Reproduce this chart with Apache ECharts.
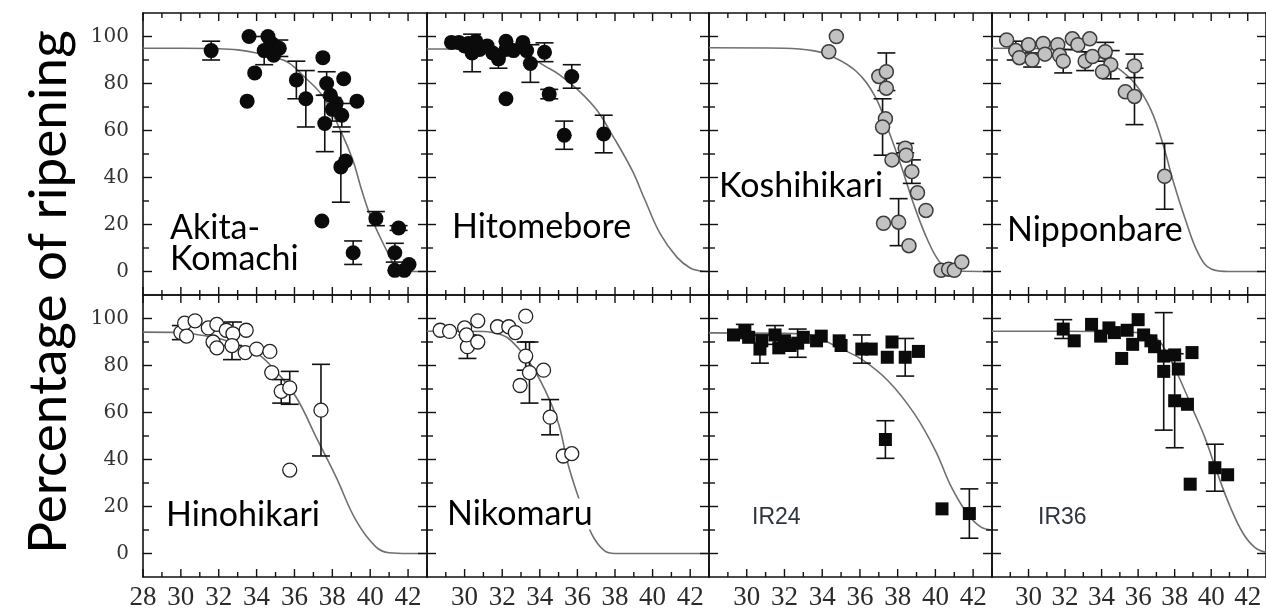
<!DOCTYPE html>
<html><head><meta charset="utf-8">
<script src="https://cdn.jsdelivr.net/npm/echarts@6/dist/echarts.min.js"></script>
<style>html,body{margin:0;padding:0;background:#fff}#c{width:1266px;height:614px}</style>
</head><body><div id="c"></div>
<script>
// ---------------- data ----------------
const xMin = 28, xMax = 43, xMajorStep = 2;
const yMin = -10, yMax = 110, yMajorSplits = 6;
const xMajorTicks = [28, 30, 32, 34, 36, 38, 40, 42];
const xMinorTicks = [29, 31, 33, 35, 37, 39, 41];
const yMajorTicks = [0, 20, 40, 60, 80, 100];
const yMinorTicks = [10, 30, 50, 70, 90];
const yAxisTitle = 'Percentage of ripening';
const panelNames = ['Akita-\nKomachi', 'Hitomebore', 'Koshihikari', 'Nipponbare',
                    'Hinohikari', 'Nikomaru', 'IR24', 'IR36'];

// points: [temperature, % ripening, error (0 = none)]
const akitaPts = [
  [31.6,94,4],[33.6,100,0],[33.5,72.5,0],[33.9,84.5,0],[34.6,100,0],[34.4,94,6],
  [34.8,97,0],[35.2,95,3.5],[34.9,92,0],[36.1,81.5,8],[36.6,73.5,12],[37.5,91,0],
  [37.7,80,5],[37.6,63,12],[38.2,71.5,0],[38.5,66.5,5],[38.6,82,0],[37.9,75,0],
  [38.0,69,5],[38.45,44.5,15],[38.7,47,0],[37.45,21.5,0],[39.3,72.5,0],[39.1,8,5],
  [40.3,22.5,3],[41.5,18.5,1],[41.3,8,4],[41.3,0.5,0],[41.8,0.5,0],[42.05,3,0]
];
const hitoPts = [
  [29.3,97.5,0],[29.7,97.5,0],[30.0,96,0],[30.2,97,0],[30.6,98,0],[30.4,93,8],
  [30.8,94.5,0],[31.2,96,0],[31.5,93,0],[31.8,90.5,4],[32.2,98,0],[32.2,94.5,0],
  [32.6,94,0],[33.1,97.5,0],[33.3,94,0],[33.5,88.5,8],[34.25,93.3,4],[32.2,73.5,0],
  [34.5,75.5,2],[35.7,83,5],[35.3,58,6],[37.4,58.5,8]
];
const koshiPts = [
  [34.75,100,0],[34.35,93.5,0],[37.0,83,0],[37.4,85,8],[37.4,78,0],[37.35,65,0],
  [37.2,61.5,12],[37.7,47.5,0],[38.4,52.5,2],[38.45,49.5,0],[38.75,42.5,5],[39.05,33.5,0],
  [39.5,26,0],[37.25,20.5,0],[38.05,21,10],[38.6,11,0],[40.3,0.5,0],[40.7,1,0],
  [41.0,0.5,0],[41.4,4,0]
];
const nippPts = [
  [28.8,98.5,0],[29.3,94,4],[29.5,91,0],[30.0,96.5,0],[30.2,90,3],[30.8,97,0],
  [30.9,92.5,0],[31.6,96.5,0],[31.7,92,0],[31.9,89.5,5],[32.4,99,0],[32.7,96.5,0],
  [33.1,89.5,4],[33.35,99,0],[33.5,91.5,0],[34.2,93.5,4],[34.5,88,6],[34.05,85,0],
  [35.8,87.5,5],[35.3,76.5,0],[35.8,74.5,12],[37.45,40.5,14]
];
const hinoPts = [
  [30.0,94,3],[30.2,98,0],[30.75,99,0],[30.3,92.5,0],[31.45,96,0],[31.9,97.5,0],
  [31.7,90,0],[31.9,87.5,0],[32.4,95,0],[32.75,93.5,5],[32.7,88.5,6],[33.45,95,0],
  [33.4,85.5,0],[34.0,87,0],[34.7,86,0],[34.8,77,0],[35.3,69,5],[35.75,70.5,7],
  [35.75,35.5,0],[37.4,61,19.5]
];
const nikoPts = [
  [28.7,95,0],[29.2,94.5,0],[30.0,96,0],[30.15,88,5],[30.1,93,0],[30.7,99,0],
  [30.7,90,0],[31.75,96.5,0],[32.35,96.5,0],[32.7,94,0],[33.25,101,0],[33.25,84,6],
  [32.95,71.5,0],[33.45,77,13],[34.2,78,0],[34.55,58,7.5],[35.25,41.5,0],[35.7,42.5,0]
];
const ir24Pts = [
  [29.3,93,0],[29.9,94.5,3],[30.1,92,0],[30.7,87,6],[30.8,90.5,0],[31.5,93,4],
  [31.7,87.5,0],[32.0,90.5,0],[32.3,88.5,0],[32.7,89.5,6],[33.0,92,0],[33.7,90.5,0],
  [33.95,92.5,0],[34.9,90.5,0],[35.0,88.5,0],[36.1,87,6],[36.6,87,0],[37.45,83.5,0],
  [37.7,90,0],[38.4,83.5,8],[39.1,86,0],[37.35,48.5,8],[40.35,19,0],[41.8,17,10.5]
];
const ir36Pts = [
  [31.9,95.5,4],[32.5,90.5,0],[33.45,97.5,0],[33.95,92.5,0],[34.4,96,0],[34.7,94,0],
  [35.1,83,0],[35.4,95,0],[36.0,99.5,0],[35.7,89,0],[36.3,93,0],[36.7,90.5,0],
  [36.9,88,0],[37.4,77.5,25],[37.4,84,0],[38.0,84.5,0],[38.2,78.5,0],[38.0,65,20],
  [38.7,63.5,0],[38.95,85.5,0],[38.85,29.5,0],[40.2,36.5,10],[40.9,33.5,0]
];

// fitted curves: [temperature, % ripening]
const akitaCurve = [[28,95],[30,95],[32,94.8],[33,94.3],[34,93],[35,91],[35.7,88.8],[36.5,83],
  [37.5,74.5],[38.5,58.8],[39.1,47],[39.5,36],[39.95,25],[40.5,15],[40.9,8.5],[41.35,2],[42,0],[43,0]];
const hitoCurve = [[28,94.7],[31,94.7],[32.5,94],[33.5,91],[34.3,87.3],[35,84],[36,77.5],[37,69],
  [37.8,58.8],[38.9,43.2],[39.6,30.3],[40.4,16.1],[41.3,6],[42,1.5],[42.5,0.3],[43,0]];
const koshiCurve = [[28,95.2],[32,95],[33.5,94],[34.5,91.6],[35.8,85.2],[36.8,74.5],[37.5,60.3],
  [38.2,44.6],[38.9,27.5],[39.6,13.2],[40.3,3.3],[41,0.2],[43,0]];
const nippCurve = [[28,95],[32,94.5],[33.5,92.5],[34.75,87.3],[35.8,80.2],[36.7,68.8],[37.4,53.1],
  [37.9,38.9],[38.6,21.8],[39.3,7.6],[40,1.1],[41,0],[43,0]];
const hinoCurve = [[28,94.2],[30,94],[31,93],[32,91.5],[33,88.8],[34,85.4],[35,77.8],[36.1,66.4],
  [37.15,49.4],[38.2,32.5],[39.25,14.1],[40.3,2.8],[41,0.3],[42,0],[43,0]];
const nikoCurve = [[28,94.6],[31,94.5],[32,93],[32.5,90.4],[33.4,81.9],[34.3,69.2],[35,55.1],
  [35.5,38.1],[36.05,24],[36.75,8.5],[37.45,1.1],[38,0],[43,0]];
const ir24Curve = [[28,93.9],[33,93.5],[34,91],[34.9,87.5],[36.1,82.6],[37.5,73.4],[38.9,59.3],
  [40,43.8],[40.85,28.2],[41.7,16.9],[42.4,11.3],[43,10]];
const ir36Curve = [[28,94.6],[32,94.6],[36,94],[37,91.5],[37.6,85],[38.25,74.8],[38.95,62.1],
  [39.65,49.4],[40.35,33.9],[41.05,19.7],[41.75,8.5],[42.4,2.5],[43,0.5]];

// ---------------- layout & styles ----------------
const panelPts = [akitaPts, hitoPts, koshiPts, nippPts, hinoPts, nikoPts, ir24Pts, ir36Pts];
const panelCurves = [akitaCurve, hitoCurve, koshiCurve, nippCurve, hinoCurve, nikoCurve, ir24Curve, ir36Curve];
const panelMarker = ['black', 'black', 'gray', 'gray', 'open', 'open', 'square', 'square'];
const gridLefts = [143, 427, 709, 992];
const gridWidths = [284, 282, 283, 284];
const gridTops = [13, 295];
const gridH = 282;
const labelPos = [[170, 244], [452, 227], [719, 186], [1007, 230], [166, 515], [447, 514], [752, 518], [1038, 518]];
const tickLen = { xMajor: 8, xMinor: 5, yMajor: 9, yMinor: 6 };

const markerStyles = {
  black:  { symbol: 'circle', symbolSize: 15, itemStyle: { color: '#0b0b0b', opacity: 1 } },
  gray:   { symbol: 'circle', symbolSize: 14, itemStyle: { color: '#c2c2c2', borderColor: '#3c3c3c', borderWidth: 1.5, opacity: 1 } },
  open:   { symbol: 'circle', symbolSize: 14, itemStyle: { color: '#ffffff', borderColor: '#222', borderWidth: 1.3, opacity: 1 } },
  square: { symbol: 'rect',   symbolSize: 13, itemStyle: { color: '#0b0b0b', opacity: 1 } }
};
const AX = '#111';

const grids = [], xAxes = [], yAxes = [], series = [], graphics = [];

for (let p = 0; p < 8; p++) {
  const row = Math.floor(p / 4), col = p % 4;
  grids.push({ left: gridLefts[col], top: gridTops[row], width: gridWidths[col], height: gridH });
  ['bottom', 'top'].forEach((pos, k) => {
    const withLabel = (row === 1 && k === 0);
    xAxes.push({
      gridIndex: p, type: 'value', min: xMin, max: xMax, interval: xMajorStep,
      position: pos, splitLine: { show: false },
      axisLine: { show: true, onZero: false, lineStyle: { color: AX, width: 1.6 } },
      axisTick: { show: false },
      axisLabel: withLabel ? {
        show: true, margin: 7, showMaxLabel: false, showMinLabel: col === 0,
        fontFamily: 'Liberation Serif', fontSize: 27, color: '#2b2b2b'
      } : { show: false }
    });
  });
  ['left', 'right'].forEach((pos, k) => {
    const withLabel = (col === 0 && k === 0);
    yAxes.push({
      gridIndex: p, type: 'value', min: yMin, max: yMax, splitNumber: yMajorSplits,
      position: pos, splitLine: { show: false },
      axisLine: { show: true, onZero: false, lineStyle: { color: AX, width: 1.6 } },
      axisTick: { show: false },
      axisLabel: withLabel ? {
        show: true, margin: 14, showMinLabel: false, showMaxLabel: false,
        fontFamily: 'DejaVu Serif', fontSize: 20, color: '#333'
      } : { show: false }
    });
  });

  const xi = p * 2, yi = p * 2;
  series.push({
    type: 'line', xAxisIndex: xi, yAxisIndex: yi, data: panelCurves[p],
    showSymbol: false, smooth: 0.4, z: 2, silent: true,
    lineStyle: { color: '#707070', width: 1.6 }
  });
  series.push({
    type: 'custom', xAxisIndex: xi, yAxisIndex: yi, z: 3, clip: true, silent: true,
    data: panelPts[p].filter(d => d[2] > 0),
    encode: { x: 0, y: 1 },
    renderItem: function (params, api) {
      const x = api.value(0), y = api.value(1), e = api.value(2);
      const t = api.coord([x, y + e]), b = api.coord([x, y - e]);
      const hw = 9, st = { stroke: '#111', lineWidth: 1.6 };
      return { type: 'group', children: [
        { type: 'line', shape: { x1: t[0], y1: t[1], x2: b[0], y2: b[1] }, style: st },
        { type: 'line', shape: { x1: t[0] - hw, y1: t[1], x2: t[0] + hw, y2: t[1] }, style: st },
        { type: 'line', shape: { x1: b[0] - hw, y1: b[1], x2: b[0] + hw, y2: b[1] }, style: st }
      ] };
    }
  });
  series.push(Object.assign({
    type: 'scatter', xAxisIndex: xi, yAxisIndex: yi, z: 4, silent: true,
    data: panelPts[p].map(d => [d[0], d[1]])
  }, markerStyles[panelMarker[p]]));

  const isIR = p >= 6;
  graphics.push({
    type: 'text', x: labelPos[p][0], y: labelPos[p][1], z: 10, silent: true,
    style: {
      text: panelNames[p], verticalAlign: 'middle', align: 'left',
      font: isIR ? 'normal 23px "Liberation Sans"' : 'normal 34px Lato',
      fill: isIR ? '#2e3340' : '#000', lineHeight: 31, backgroundColor: '#fff'
    }
  });
}

graphics.push({
  type: 'text', x: 49, y: 292, rotation: Math.PI / 2, z: 10, silent: true,
  style: { text: yAxisTitle, align: 'center', verticalAlign: 'middle',
           font: 'normal 53px Lato', fill: '#000' }
});

const chart = echarts.init(document.getElementById('c'), null, { renderer: 'canvas' });
chart.setOption({
  animation: false,
  backgroundColor: '#fff',
  grid: grids, xAxis: xAxes, yAxis: yAxes, series: series, graphic: graphics
});

// inside tick marks on all four sides, positioned through each grid's axis scales
const tickGraphics = [];
const tickStyle = { stroke: AX, lineWidth: 1.4 };
for (let p = 0; p < 8; p++) {
  const finder = { gridIndex: p };
  const bl = chart.convertToPixel(finder, [xMin, yMin]);
  const tr = chart.convertToPixel(finder, [xMax, yMax]);
  const addX = (v, L) => {
    const px = chart.convertToPixel(finder, [v, yMin])[0];
    tickGraphics.push({ type: 'line', silent: true, z: 5, shape: { x1: px, y1: bl[1], x2: px, y2: bl[1] - L }, style: tickStyle });
    tickGraphics.push({ type: 'line', silent: true, z: 5, shape: { x1: px, y1: tr[1], x2: px, y2: tr[1] + L }, style: tickStyle });
  };
  const addY = (v, L) => {
    const py = chart.convertToPixel(finder, [xMin, v])[1];
    tickGraphics.push({ type: 'line', silent: true, z: 5, shape: { x1: bl[0], y1: py, x2: bl[0] + L, y2: py }, style: tickStyle });
    tickGraphics.push({ type: 'line', silent: true, z: 5, shape: { x1: tr[0], y1: py, x2: tr[0] - L, y2: py }, style: tickStyle });
  };
  xMajorTicks.forEach(v => addX(v, tickLen.xMajor));
  xMinorTicks.forEach(v => addX(v, tickLen.xMinor));
  yMajorTicks.forEach(v => addY(v, tickLen.yMajor));
  yMinorTicks.forEach(v => addY(v, tickLen.yMinor));
}
chart.setOption({ graphic: graphics.concat(tickGraphics) });
</script></body></html>
